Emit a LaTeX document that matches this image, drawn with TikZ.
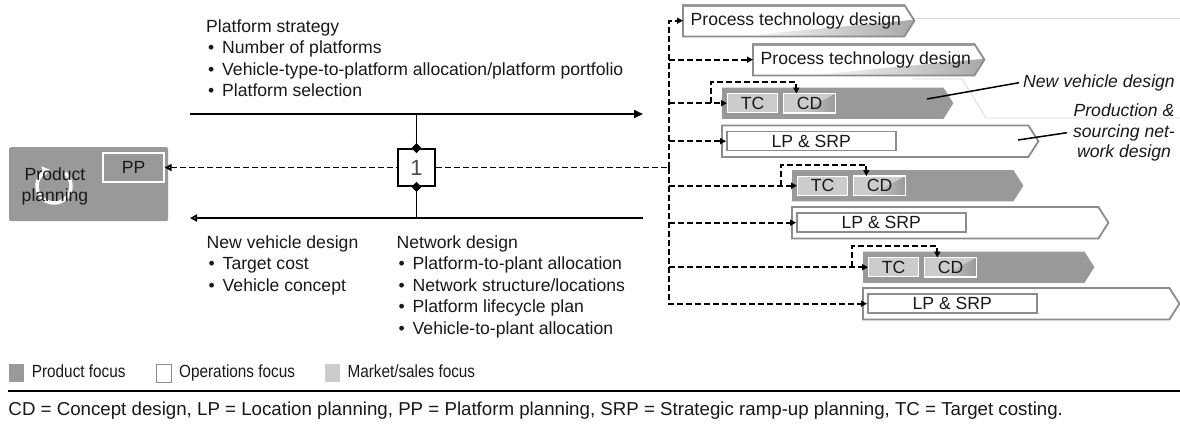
\documentclass[tikz,border=0pt]{standalone}
\usepackage{fontspec}
\setmainfont{Liberation Sans}
\usetikzlibrary{arrows.meta,shapes.geometric}

\definecolor{prodgray}{RGB}{153,153,153}
\definecolor{mktgray}{RGB}{204,204,204}
\definecolor{edgegray}{RGB}{140,140,140}
\definecolor{ghostgray}{RGB}{218,218,218}
\definecolor{shadegray}{RGB}{168,168,168}
\definecolor{txt}{RGB}{25,25,25}

% outline of a chevron built on an invisible base node
\newcommand{\chevpath}[1]{(#1.north west) -- (#1.north east) -- ([xshift=10pt]#1.east) -- (#1.south east) -- (#1.south west) -- cycle}
% white chevron with a grey wedge under its point and a heavier top edge
\newcommand{\techchevron}[1]{%
  \begin{scope}
    \clip \chevpath{#1};
    \fill[white] \chevpath{#1};
    \shade[left color=white, right color=shadegray] ([xshift=55pt]#1.south west) -- ([xshift=10pt,yshift=1pt]#1.east) -- ([xshift=10pt,yshift=-2pt]#1.south east) -- cycle;
  \end{scope}
  \draw[edgegray, line width=1.8pt, line join=miter] \chevpath{#1};
  \draw[prodgray, line width=3pt] ([yshift=-0.6pt]#1.north west) -- ([yshift=-0.6pt]#1.north east);
}
\newcommand{\bl}{\makebox[16pt][l]{\hspace{2pt}\textbullet}}

\tikzset{
  base font/.style={font=\fontsize{17.6}{21.5}\selectfont},
  chevbase/.style={inner sep=0, minimum height=31pt, anchor=north west},
  mainline/.style={line width=1.8pt, black},
  dashline/.style={line width=1.7pt, black, dash pattern=on 6pt off 3pt},
  dasharrow/.style={dashline, -{Triangle[length=6pt,width=6pt]}},
  tcbox/.style={inner sep=0, minimum width=50pt, minimum height=19pt, fill=mktgray, draw=white, line width=1.3pt, anchor=west},
  cdbox/.style={inner sep=0, minimum width=52pt, minimum height=19pt, anchor=west},
  lpbox/.style={inner sep=0, minimum width=169pt, minimum height=19pt, fill=white, draw=edgegray, line width=1.5pt, anchor=west},
  legendsq/.style={inner sep=0, minimum width=15pt, minimum height=18pt, anchor=north west},
  legendtext/.style={anchor=base west, inner sep=0},
  blocktext/.style={base font, anchor=base west, align=left, inner sep=0, text=txt},
}

\begin{document}
\begin{tikzpicture}[x=1pt, y=-1pt, every node/.style={base font, text=txt}]
\fill[white] (0,0) rectangle (1180,426);
\useasboundingbox (0,0) rectangle (1180,426);

% faint construction lines in the upper right
\draw[ghostgray, line width=0.8pt] (913,18) -- (1180,18);
\draw[ghostgray, line width=0.8pt] (913,79) -- (962,79) -- (986,118) -- (1180,118);

% product planning block
\node[fill=prodgray, rounded corners=1.5pt, minimum width=159pt, minimum height=74pt, anchor=north west, inner sep=0] (plan) at (9,147) {};
\draw[white, line width=3.5pt, -{Triangle[length=7pt,width=10pt]}] (54,186) ++(-50:17) arc[start angle=-50, end angle=255, radius=17];
\node[anchor=north, align=center, inner sep=0, font=\fontsize{17.6}{21}\selectfont] (plantext) at (55,168) {Product\\planning};
\node[draw=white, fill=prodgray, line width=1.3pt, minimum width=61pt, minimum height=29pt, inner sep=0] (pp) at (133.5,167.5) {PP};

% text blocks (anchored on the baseline of their last line)
\node[blocktext] (strat) at (206,96.8) {Platform strategy\\
\bl Number of platforms\\
\bl Vehicle-type-to-platform allocation/platform portfolio\\
\bl Platform selection};
\node[blocktext] (nvdtext) at (206.5,291.3) {New vehicle design\\
\bl Target cost\\
\bl Vehicle concept};
\node[blocktext] (nettext) at (396.5,334.3) {Network design\\
\bl Platform-to-plant allocation\\
\bl Network structure/locations\\
\bl Platform lifecycle plan\\
\bl Vehicle-to-plant allocation};

% main information flows
\coordinate (topL) at (190,114);
\coordinate (topR) at (643,114);
\coordinate (botL) at (190,218);
\coordinate (botR) at (643,218);
\draw[mainline, -{Triangle[length=9pt,width=8pt]}] (topL) -- (topR);
\draw[mainline, {Triangle[open,length=7pt,width=7pt,fill=white]}-] (botL) -- (botR);

% coordination hub
\node[draw, line width=1.8pt, fill=white, minimum size=37pt, inner sep=0, font=\fontsize{22}{22}\selectfont, text=black!70] (hub) at (416.5,167.5) {1};
\draw[mainline] (hub |- topL) -- (hub.north);
\draw[mainline] (hub.south) -- (hub |- botL);
\node[diamond, fill=black, inner sep=0, minimum size=10pt] (dtop) at (hub.north) {};
\node[diamond, fill=black, inner sep=0, minimum size=10pt] (dbot) at (hub.south) {};

% process technology design
\node[chevbase, minimum width=221pt] (pt1) at (683,5) {};
\techchevron{pt1}
\node[anchor=west, inner sep=0] (pt1t) at ([xshift=7.5pt]pt1.west) {Process technology design};
\node[chevbase, minimum width=221pt] (pt2) at (753,44) {};
\techchevron{pt2}
\node[anchor=west, inner sep=0] (pt2t) at ([xshift=7.5pt]pt2.west) {Process technology design};

% new vehicle design chevrons
\node[chevbase, minimum width=221pt] (nv1) at (722,87.5) {};
\node[chevbase, minimum width=221pt] (nv2) at (792,170) {};
\node[chevbase, minimum width=221pt] (nv3) at (863,251.5) {};
\foreach \n in {nv1,nv2,nv3}{
  \fill[prodgray] \chevpath{\n};
}
\node[tcbox] (tc1) at ([xshift=5pt]nv1.west) {TC};
\node[tcbox] (tc2) at ([xshift=5pt]nv2.west) {TC};
\node[tcbox] (tc3) at ([xshift=5pt]nv3.west) {TC};
\foreach \i in {1,2,3}{
  \node[cdbox] (cd\i) at ([xshift=5pt]tc\i.east) {};
  \fill[mktgray] (cd\i.north west) rectangle (cd\i.south east);
  \shade[left color=mktgray, right color=prodgray] ([xshift=16pt]cd\i.south west) -- (cd\i.north east) -- (cd\i.south east) -- cycle;
  \draw[white, line width=1.3pt] (cd\i.north west) rectangle (cd\i.south east);
  \node[inner sep=0] at (cd\i) {CD};
}

% production & sourcing network design chevrons
\node[chevbase, minimum width=306pt] (lp1) at (722,125.5) {};
\node[chevbase, minimum width=306pt] (lp2) at (792,207) {};
\node[chevbase, minimum width=306pt] (lp3) at (863,288) {};
\foreach \n in {lp1,lp2,lp3}{
  \filldraw[fill=white, draw=edgegray, line width=1.8pt] \chevpath{\n};
}
\node[lpbox] (lpin1) at ([xshift=4pt]lp1.west) {LP \& SRP};
\node[lpbox] (lpin2) at ([xshift=4pt]lp2.west) {LP \& SRP};
\node[lpbox] (lpin3) at ([xshift=4pt]lp3.west) {LP \& SRP};

% callouts
\node[anchor=base east, inner sep=0, font=\fontsize{17.6}{20.5}\selectfont\itshape] (nvlabel) at (1175,87.7) {New vehicle design};
\node[anchor=north, align=center, inner sep=0, font=\fontsize{17.6}{20.5}\selectfont\itshape] (pslabel) at (1124,103.8) {Production \&\\sourcing net-\\work design};
\coordinate (nvpoint) at (927,99);
\coordinate (pspoint) at (1018,140);
\draw[line width=1.5pt] (nvpoint) -- ([xshift=-4pt,yshift=5pt]nvlabel.base west);
\draw[line width=1.5pt] (pspoint) -- ([xshift=-6pt]pslabel.west);

% dashed coordination links
\coordinate (trunk) at (669,167.5);
\draw[dashline, {Triangle[open,length=7pt,width=7pt,fill=white]}-] (pp.east) -- (hub.west);
\draw[dashline] (hub.east) -- (trunk);
\draw[dasharrow] (trunk) -- (trunk |- pt1.west) -- (pt1.west);
\draw[dasharrow] (trunk) -- (trunk |- lpin3.west) -- (lpin3.west);
\draw[dasharrow] (trunk |- pt2.west) -- (pt2.west);
\draw[dasharrow] (trunk |- lpin1.west) -- (lpin1.west);
\draw[dasharrow] (trunk |- lpin2.west) -- (lpin2.west);
\foreach \i in {1,2,3}{
  \draw[dasharrow] (trunk |- tc\i.west) -- (tc\i.west);
  \draw[dasharrow] ([xshift=-16pt]tc\i.west) -- ++(0,-21) -| ([xshift=13pt]cd\i.north west);
}

% legend
\node[legendsq, fill=prodgray] (lgprod) at (8.3,363.5) {};
\node[legendtext] (lgprodt) at (31.7,377.3) {\scalebox{0.87}[1]{Product focus}};
\node[legendsq, fill=white, draw=edgegray, line width=1.3pt] (lgops) at (156,364) {};
\node[legendtext] (lgopst) at (179,377.3) {\scalebox{0.87}[1]{Operations focus}};
\node[legendsq, fill=mktgray] (lgmkt) at (325,363.5) {};
\node[legendtext] (lgmktt) at (347.3,377.3) {\scalebox{0.87}[1]{Market/sales focus}};
\draw[line width=2.5pt] (8,390.8) -- (1180,390.8);
\node[anchor=base west, inner sep=0, font=\fontsize{18.7}{22}\selectfont] (abbr) at (8.3,415) {CD = Concept design, LP = Location planning, PP = Platform planning, SRP = Strategic ramp-up planning, TC = Target costing.};
\end{tikzpicture}
\end{document}
